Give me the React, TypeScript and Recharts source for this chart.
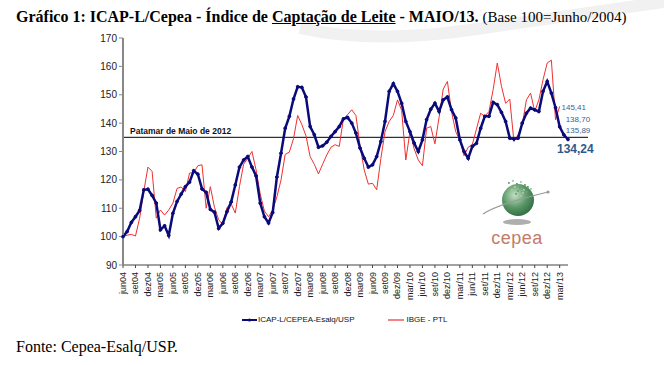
import { LineChart, Line, XAxis, YAxis, ReferenceLine, LabelList } from 'recharts';

const monthNames = ['jan', 'fev', 'mar', 'abr', 'mai', 'jun', 'jul', 'ago', 'set', 'out', 'nov', 'dez'];

// jun/2004 .. mai/2013 (108 meses); a partir de dez/09 o Excel usa barra
const months: string[] = [];
for (let k = 0; k < 108; k++) {
  const m = (5 + k) % 12;
  const yy = String(4 + Math.floor((5 + k) / 12)).padStart(2, '0');
  months.push(k >= 66 ? `${monthNames[m]}/${yy}` : `${monthNames[m]}${yy}`);
}

const icapL = [
  100, 101.8, 105, 107, 109.2, 116.5, 116.7, 114.5, 111.8, 102.4, 103.8, 100.4,
  108.2, 112.4, 115, 117.6, 119.2, 123.2, 122, 116.8, 115.6, 109.6, 108.6, 102.9,
  104.7, 108.8, 112.2, 118.2, 124.5, 127, 128.2, 124.5, 121.4, 111.8, 107, 104.8,
  108.5, 121, 129.4, 138.2, 142.4, 148.5, 152.8, 152.6, 149.2, 138.8, 135.9, 131.5,
  132, 133.3, 135.3, 137, 138.8, 141.5, 142, 140, 136.5, 131.2, 127.6, 124.5,
  125.3, 128.2, 133.5, 140.6, 151.2, 153.9, 151.2, 147, 140.6, 137, 133, 130,
  134.1, 141.2, 144.9, 147, 144.1, 148.2, 149.2, 144.7, 141.8, 134.1, 130, 127.6,
  131.8, 132.9, 138.2, 142.4, 142.4, 147.3, 146.5, 143.8, 140.6, 134.7, 134.4, 134.7,
  140, 143.5, 145.3, 144.7, 144.1, 151.2, 154.7, 150.6, 145.41, 138.7, 135.89, 134.24,
];

const ibgePtl: (number | null)[] = [
  100, 100.5, 100.8, 100.2, 106.5, 116, 124.5, 123, 106.5, 109.4, 107.6, 109.4,
  111.8, 117, 117.5, 115.9, 122.4, 122.5, 125, 125.3, 110, 117.6, 110.3, 106,
  104.2, 110.3, 111.5, 108.3, 117.6, 125.5, 127.6, 130, 123.5, 115, 109, 107,
  109.4, 114, 120, 129, 129.8, 134.5, 142.7, 139.5, 135.5, 128.2, 125.5, 122.1,
  125.5, 128.8, 131.5, 132.4, 131.8, 141.5, 143, 144.7, 142.7, 132, 123.5, 118.5,
  118.8, 116.5, 127.5, 137, 140.6, 142.7, 148.2, 144.5, 127, 137, 131, 127,
  125, 138.2, 138.8, 132.7, 142, 152, 154.7, 144, 137, 134, 128.5, 131.5,
  132.5, 138, 143.5, 142.4, 144.1, 151.8, 161.2, 153, 147, 148.5, 133.5, 135.9,
  139.4, 148.2, 150.6, 144.1, 148.2, 155.3, 161.2, 162.2, 141.2, 145.9, null, null,
];

const yTicks = [90, 100, 110, 120, 130, 140, 150, 160, 170];
const patamar = 135;

const data = months.map((month, i) => ({ month, icap: icapL[i], ibge: ibgePtl[i] }));

// rótulos dos quatro últimos pontos do ICAP-L
const lastLabels: Record<number, { dx: number; dy: number; size: number; bold: boolean }> = {
  104: { dx: 6, dy: 0, size: 8, bold: false },
  105: { dx: 6, dy: -7, size: 8, bold: false },
  106: { dx: 2, dy: -4, size: 8, bold: false },
  107: { dx: -11, dy: 10, size: 12, bold: true },
};

const LastValueLabel = (props: any) => {
  const { x, y, index, value } = props;
  const cfg = lastLabels[index];
  if (!cfg) return null;
  return (
    <text
      x={x + cfg.dx}
      y={y + cfg.dy}
      fontFamily="Arial, 'Liberation Sans'"
      fontSize={cfg.size}
      fontWeight={cfg.bold ? 'bold' : 'normal'}
      fill={cfg.bold ? '#2E5A8A' : '#3A5F8F'}
      dominantBaseline="central"
    >
      {Number(value).toFixed(2).replace('.', ',')}
    </text>
  );
};

const MonthTick = ({ x, y, payload }: any) => (
  <text
    x={x}
    y={y + 2}
    transform={`rotate(-90 ${x} ${y + 2})`}
    textAnchor="end"
    dominantBaseline="central"
    fontFamily="Arial, 'Liberation Sans'"
    fontSize={9}
    fill="#222"
  >
    {payload.value}
  </text>
);

const PatamarLine = (props: any) => {
  const { x1, y1, x2, y2 } = props;
  return <line x1={x1} y1={y1} x2={x2 + 20} y2={y2} stroke="#000" strokeWidth={1} />;
};

const speckles = [
  [30, 4], [34, 2], [38, 5], [42, 3], [46, 6], [36, 8], [41, 9], [45, 11], [49, 8], [33, 11],
  [39, 12], [44, 14], [48, 13], [52, 10], [37, 15], [42, 17], [47, 17],
];

const Logo = () => (
  <svg width={80} height={72} style={{ position: 'absolute', left: 478, top: 178 }}>
    <defs>
      <radialGradient id="globe" cx="40%" cy="35%" r="70%">
        <stop offset="0%" stopColor="#c4e0c4" />
        <stop offset="55%" stopColor="#5a9868" />
        <stop offset="100%" stopColor="#2f6a3f" />
      </radialGradient>
    </defs>
    <ellipse cx={39} cy={44} rx={14} ry={3} fill="#9a9a9a" opacity={0.8} />
    <circle cx={40} cy={22} r={16} fill="url(#globe)" />
    {speckles.map(([sx, sy], k) => (
      <rect key={k} x={sx} y={sy} width={1.8} height={1.8} fill={k % 2 ? '#a8c8a8' : '#6f9f7a'} />
    ))}
    <path d="M5 36 Q 20 26 70 14" stroke="#999" strokeWidth={1.2} fill="none" />
    <circle cx={70} cy={14} r={1.6} fill="#999" />
    <text x={39} y={66} textAnchor="middle" fontFamily="Arial, 'Liberation Sans'" fontSize={18} fill="#C47A68" letterSpacing={0.5}>
      cepea
    </text>
  </svg>
);

export default function App() {
  return (
    <div style={{ position: 'relative', width: 664, height: 365, background: '#fff', overflow: 'hidden' }}>
      <style>{'body{margin:0}'}</style>
      <svg width={664} height={45} style={{ position: 'absolute', left: 0, top: 0 }}>
        <path d="M300 28 Q 370 44 470 30 Q 580 14 664 2" stroke="#f1f1f1" strokeWidth={12} fill="none" />
      </svg>
      <div
        style={{
          position: 'absolute',
          left: 16,
          top: 8,
          fontFamily: "'Liberation Serif', 'Times New Roman', serif",
          fontSize: 16,
          whiteSpace: 'nowrap',
          color: '#000',
        }}
      >
        <b>
          Gráfico 1: ICAP-L/Cepea - Índice de <u>Captação de Leite</u> - MAIO/13.
        </b>{' '}
        <span style={{ fontSize: 15 }}>(Base 100=Junho/2004)</span>
      </div>

      <LineChart
        width={664}
        height={365}
        data={data}
        margin={{ top: 38, right: 96, bottom: 0, left: 0 }}
        style={{ position: 'absolute', left: 0, top: 0 }}
      >
        <XAxis
          dataKey="month"
          interval={2}
          tick={<MonthTick />}
          tickSize={3}
          stroke="#444"
          axisLine={{ stroke: '#444' }}
          tickLine={{ stroke: '#444' }}
          height={100}
        />
        <YAxis
          domain={[90, 170]}
          ticks={yTicks}
          width={123}
          tickSize={4}
          axisLine={{ stroke: '#888', strokeWidth: 2 }}
          tickLine={{ stroke: '#888' }}
          tick={{ fontFamily: "Arial, 'Liberation Sans'", fontSize: 10, fill: '#222' }}
        />
        <ReferenceLine
          y={patamar}
          shape={<PatamarLine />}
          label={{
            value: 'Patamar de Maio de 2012',
            position: 'insideTopLeft',
            offset: 0,
            dx: 7,
            dy: -9,
            fontFamily: "Arial, 'Liberation Sans'",
            fontSize: 8.5,
            fontWeight: 'bold',
            fill: '#111',
          }}
        />
        <Line
          type="linear"
          dataKey="ibge"
          stroke="#F03030"
          strokeWidth={1}
          dot={false}
          connectNulls={false}
          isAnimationActive={false}
        />
        <Line
          type="linear"
          dataKey="icap"
          stroke="#0A0A7A"
          strokeWidth={2.5}
          dot={{ r: 1.4, fill: '#0A0A7A', stroke: '#0A0A7A', strokeWidth: 1 }}
          isAnimationActive={false}
        >
          <LabelList dataKey="icap" content={<LastValueLabel />} />
        </Line>
      </LineChart>

      <Logo />

      <div
        style={{
          position: 'absolute',
          top: 315,
          left: 242,
          display: 'flex',
          alignItems: 'center',
          fontFamily: "Arial, 'Liberation Sans'",
          fontSize: 8,
          color: '#111',
        }}
      >
        <svg width={15} height={6}>
          <line x1={0} y1={3} x2={15} y2={3} stroke="#0A0A7A" strokeWidth={2} />
          <circle cx={7.5} cy={3} r={1.6} fill="#0A0A7A" />
        </svg>
        <span style={{ marginLeft: 1 }}>ICAP-L/CEPEA-Esalq/USP</span>
        <svg width={16} height={6} style={{ marginLeft: 34 }}>
          <line x1={0} y1={3} x2={16} y2={3} stroke="#F03030" strokeWidth={1.2} />
        </svg>
        <span style={{ marginLeft: 2 }}>IBGE - PTL</span>
      </div>

      <div
        style={{
          position: 'absolute',
          left: 16,
          top: 338,
          fontFamily: "'Liberation Serif', 'Times New Roman', serif",
          fontSize: 16,
          color: '#000',
        }}
      >
        Fonte: Cepea-Esalq/USP.
      </div>
    </div>
  );
}
